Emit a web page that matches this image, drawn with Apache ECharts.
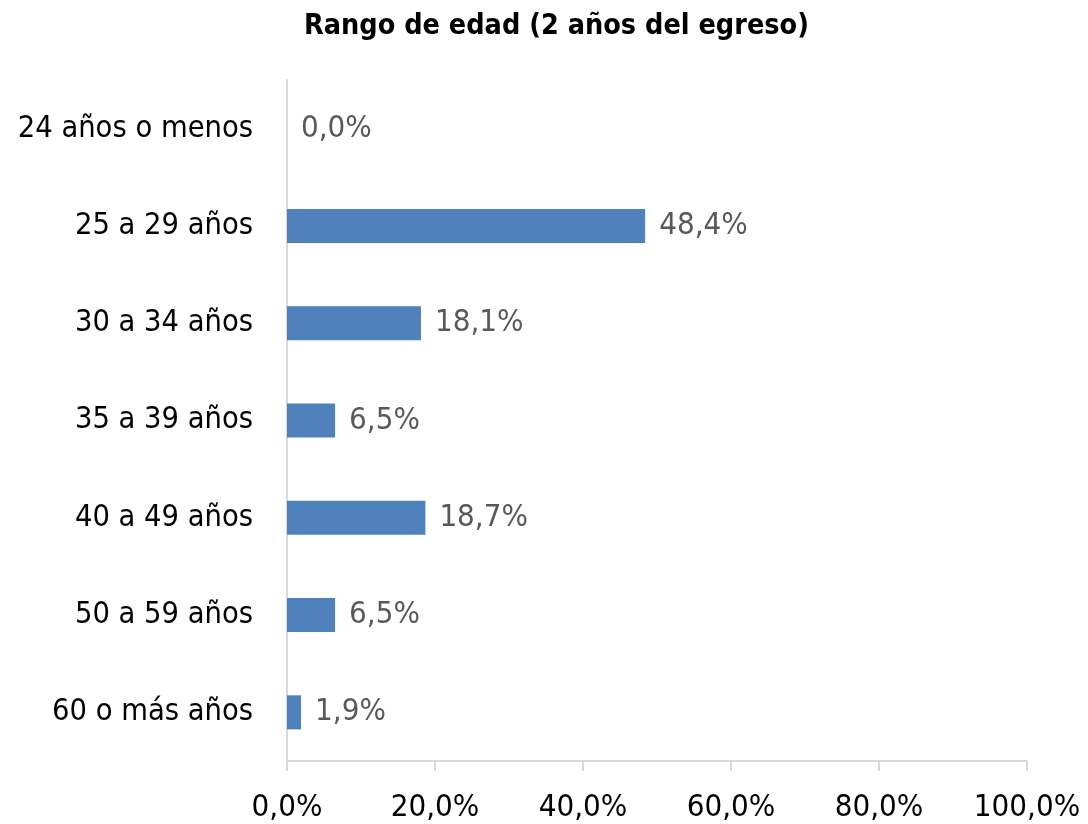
<!DOCTYPE html>
<html><head><meta charset="utf-8">
<script src="https://cdn.jsdelivr.net/npm/echarts@6/dist/echarts.min.js"></script>
<style>html,body{margin:0;padding:0;background:#fff}#c{width:1088px;height:824px}</style>
</head><body><div id="c"></div>
<script>
var categories = ['24 años o menos','25 a 29 años','30 a 34 años','35 a 39 años','40 a 49 años','50 a 59 años','60 o más años'];
var values = [0.0, 48.4, 18.1, 6.5, 18.7, 6.5, 1.9];
var xTicks = [0, 20, 40, 60, 80, 100];
var FONT = '"DejaVu Sans Condensed", "Liberation Sans", sans-serif';
function pct(v){ return v.toFixed(1).replace('.', ',') + '%'; }
var chart = echarts.init(document.getElementById('c'));
chart.setOption({
  animation: false,
  title: { text: 'Rango de edad (2 años del egreso)', left: 299, top: 7,
    textStyle: { fontFamily: FONT, fontWeight: 'bold', fontSize: 28.5, color: '#000' } },
  grid: { left: 287, right: 61, top: 80, bottom: 63 },
  xAxis: { type: 'value', min: xTicks[0], max: xTicks[xTicks.length - 1], interval: xTicks[1] - xTicks[0],
    axisLine: { show: true, lineStyle: { color: '#d9d9d9', width: 2 } },
    axisTick: { show: true, length: 10, lineStyle: { color: '#d9d9d9', width: 2 } },
    splitLine: { show: false },
    axisLabel: { fontFamily: FONT, fontSize: 31, color: '#000', margin: 31, formatter: pct } },
  yAxis: { type: 'category', data: categories, inverse: true,
    axisLine: { show: true, lineStyle: { color: '#d9d9d9', width: 2 } },
    axisTick: { show: false },
    axisLabel: { fontFamily: FONT, fontSize: 30.5, color: '#000', margin: 34, padding: [7, 0, 0, 0] } },
  series: [{ type: 'bar', data: values, barWidth: '35%',
    itemStyle: { color: '#4f81bd' },
    label: { show: true, position: 'right', distance: 14, fontFamily: FONT, fontSize: 31, color: '#595959',
      padding: [7, 0, 0, 0],
      formatter: function(p){ return pct(p.value); } } }]
});
</script></body></html>
